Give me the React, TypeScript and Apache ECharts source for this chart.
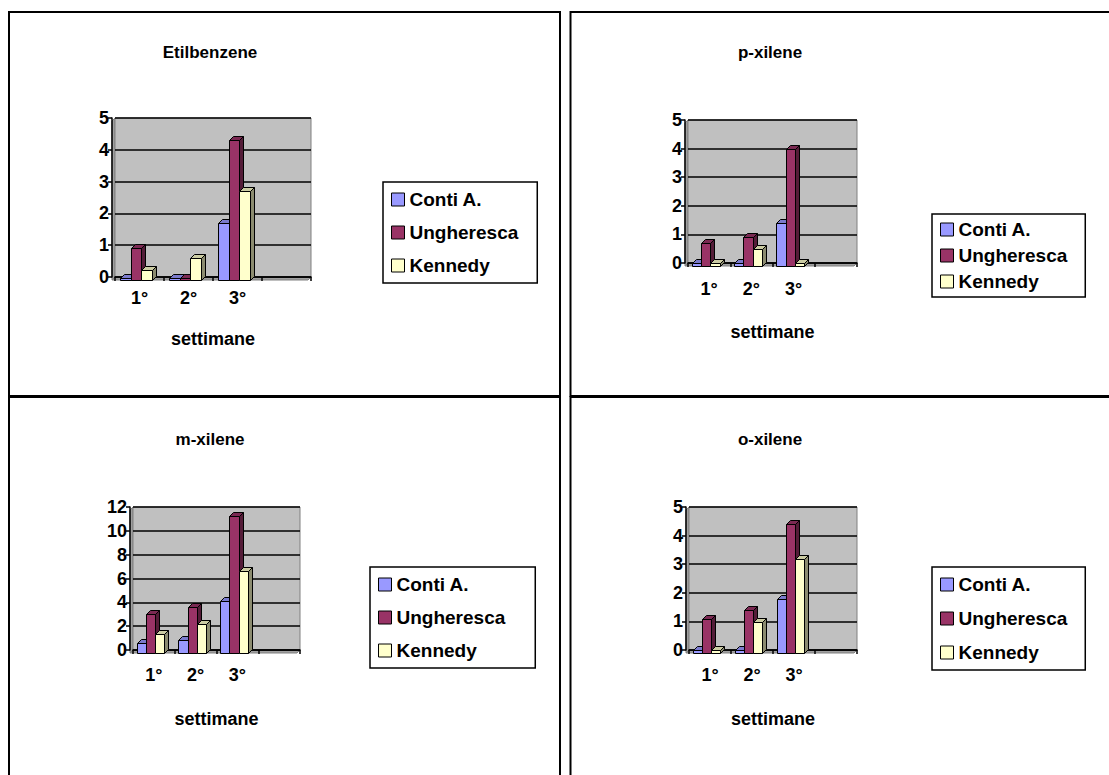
import React, { useEffect, useRef } from "react";
import * as echarts from "echarts";

// Categories and series
const weeks = ["1°", "2°", "3°", ""];
const stations = ["Conti A.", "Ungheresca", "Kennedy"];
const stationColors = ["#9999FF", "#993366", "#FFFFCC"];

// Etilbenzene
const etilbenzeneConti = [0.05, 0.05, 1.8];
const etilbenzeneUngheresca = [1.0, 0.05, 4.4];
const etilbenzeneKennedy = [0.3, 0.7, 2.8];

// p-xilene
const pXileneConti = [0.1, 0.1, 1.5];
const pXileneUngheresca = [0.8, 1.0, 4.1];
const pXileneKennedy = [0.1, 0.6, 0.1];

// m-xilene
const mXileneConti = [0.8, 1.1, 4.4];
const mXileneUngheresca = [3.3, 3.9, 11.5];
const mXileneKennedy = [1.6, 2.4, 6.9];

// o-xilene
const oXileneConti = [0.1, 0.1, 1.9];
const oXileneUngheresca = [1.2, 1.5, 4.5];
const oXileneKennedy = [0.1, 1.1, 3.3];

const FONT = "'Liberation Sans', Arial, Helvetica, sans-serif";
const WALL = 3; // depth of the back wall behind the axes
const BAR_DEPTH = 4; // depth of the 3D columns

type Panel = {
  title: string;
  titleX: number;
  titleY: number;
  values: number[][];
  yMax: number;
  yStep: number;
  wall: { left: number; top: number; right: number; bottom: number };
  labelMargin: number;
  nameGap: number;
  legend: { left: number; top: number; itemGap: number; pad: number[] };
};

const panels: Panel[] = [
  {
    title: "Etilbenzene",
    titleX: 210,
    titleY: 44,
    values: [etilbenzeneConti, etilbenzeneUngheresca, etilbenzeneKennedy],
    yMax: 5,
    yStep: 1,
    wall: { left: 115, top: 118, right: 311, bottom: 277 },
    labelMargin: 9,
    nameGap: 50,
    legend: { left: 383, top: 182, itemGap: 14, pad: [8, 19, 8, 8] },
  },
  {
    title: "p-xilene",
    titleX: 770,
    titleY: 44,
    values: [pXileneConti, pXileneUngheresca, pXileneKennedy],
    yMax: 5,
    yStep: 1,
    wall: { left: 688, top: 120, right: 857, bottom: 263 },
    labelMargin: 14,
    nameGap: 57,
    legend: { left: 932, top: 214, itemGap: 7, pad: [6, 18, 6, 8] },
  },
  {
    title: "m-xilene",
    titleX: 210,
    titleY: 431,
    values: [mXileneConti, mXileneUngheresca, mXileneKennedy],
    yMax: 12,
    yStep: 2,
    wall: { left: 133, top: 507, right: 300, bottom: 650 },
    labelMargin: 13,
    nameGap: 57,
    legend: { left: 370, top: 567, itemGap: 14, pad: [8, 30, 8, 8] },
  },
  {
    title: "o-xilene",
    titleX: 770,
    titleY: 431,
    values: [oXileneConti, oXileneUngheresca, oXileneKennedy],
    yMax: 5,
    yStep: 1,
    wall: { left: 689, top: 507, right: 857, bottom: 650 },
    labelMargin: 13,
    nameGap: 57,
    legend: { left: 932, top: 567, itemGap: 15, pad: [8, 18, 8, 8] },
  },
];

function shade(hex: string, k: number): string {
  const n = parseInt(hex.slice(1), 16);
  const r = Math.round(((n >> 16) & 255) * k);
  const g = Math.round(((n >> 8) & 255) * k);
  const b = Math.round((n & 255) * k);
  return `rgb(${r},${g},${b})`;
}

function columnRenderer(stationIdx: number, color: string) {
  const topColor = shade(color, 0.8);
  const sideColor = shade(color, 0.55);
  return (_params: any, api: any) => {
    const cat = api.value(0);
    const val = api.value(1);
    const topPt = api.coord([cat, val]);
    const basePt = api.coord([cat, 0]);
    const catW = api.size([1, 0])[0];
    const barW = catW * 0.22;
    const groupLeft = topPt[0] - catW / 2 + catW * 0.16;
    const x0 = Math.round(groupLeft + stationIdx * barW - WALL) + 0.5;
    const x1 = Math.round(groupLeft + (stationIdx + 1) * barW - WALL) + 0.5;
    const yBase = Math.round(basePt[1] + WALL) + 0.5;
    const yTop = Math.min(Math.round(topPt[1] + WALL) + 0.5, yBase - 1);
    const d = BAR_DEPTH;
    const stroke = { stroke: "#000", lineWidth: 1 };
    return {
      type: "group",
      children: [
        {
          type: "polygon",
          shape: { points: [[x1, yTop], [x1 + d, yTop - d], [x1 + d, yBase - d], [x1, yBase]] },
          style: { fill: sideColor, ...stroke },
        },
        {
          type: "polygon",
          shape: { points: [[x0, yTop], [x0 + d, yTop - d], [x1 + d, yTop - d], [x1, yTop]] },
          style: { fill: topColor, ...stroke },
        },
        {
          type: "rect",
          shape: { x: x0, y: yTop, width: x1 - x0, height: yBase - yTop },
          style: { fill: color, ...stroke },
        },
      ],
    };
  };
}

function buildOption() {
  const grid: any[] = [];
  const xAxis: any[] = [];
  const yAxis: any[] = [];
  const series: any[] = [];
  const title: any[] = [];
  const legend: any[] = [];
  const graphic: any[] = [];

  panels.forEach((p, pi) => {
    const w = p.wall;
    grid.push({
      left: w.left,
      top: w.top,
      width: w.right - w.left,
      height: w.bottom - w.top,
      show: true,
      backgroundColor: "#C0C0C0",
      borderColor: "#808080",
      borderWidth: 1,
    });
    xAxis.push({
      type: "category",
      gridIndex: pi,
      data: weeks,
      offset: WALL,
      axisLine: { show: true, lineStyle: { color: "#000", width: 1.5 } },
      axisTick: { show: true, length: 4, lineStyle: { color: "#000", width: 1.5 } },
      axisLabel: {
        interval: 0,
        margin: p.labelMargin,
        color: "#000",
        fontFamily: FONT,
        fontWeight: "bold",
        fontSize: 18,
      },
      splitLine: { show: false },
      name: "settimane",
      nameLocation: "middle",
      nameGap: p.nameGap,
      nameTextStyle: { color: "#000", fontFamily: FONT, fontWeight: "bold", fontSize: 18 },
    });
    yAxis.push({
      type: "value",
      gridIndex: pi,
      min: 0,
      max: p.yMax,
      interval: p.yStep,
      offset: WALL,
      axisLine: { show: true, lineStyle: { color: "#000", width: 1.5 } },
      axisTick: { show: true, length: 4, lineStyle: { color: "#000", width: 1.5 } },
      axisLabel: {
        margin: 3,
        color: "#000",
        fontFamily: FONT,
        fontWeight: "bold",
        fontSize: 18,
        padding: [6, 0, 0, 0],
      },
      splitLine: { show: true, lineStyle: { color: "#000", width: 1.5 } },
    });
    stations.forEach((name, si) => {
      series.push({
        type: "custom",
        name,
        xAxisIndex: pi,
        yAxisIndex: pi,
        itemStyle: { color: stationColors[si], borderColor: "#000" },
        encode: { x: 0, y: 1 },
        data: p.values[si].map((v, i) => [i, v]),
        renderItem: columnRenderer(si, stationColors[si]),
        z: 3,
      });
    });
    title.push({
      text: p.title,
      left: p.titleX,
      top: p.titleY,
      textAlign: "center",
      padding: 0,
      textStyle: { color: "#000", fontFamily: FONT, fontWeight: "bold", fontSize: 17 },
    });
    legend.push({
      orient: "vertical",
      left: p.legend.left,
      top: p.legend.top,
      data: stations,
      icon: "rect",
      itemWidth: 13,
      itemHeight: 13,
      itemGap: p.legend.itemGap,
      padding: p.legend.pad,
      borderColor: "#000",
      borderWidth: 1.5,
      backgroundColor: "#fff",
      selectedMode: false,
      itemStyle: { borderColor: "#000", borderWidth: 1 },
      textStyle: {
        color: "#000",
        fontFamily: FONT,
        fontWeight: "bold",
        fontSize: 19,
      },
    });
    // floor and side wall of the 3D plot box
    graphic.push({
      type: "polygon",
      z: -1,
      shape: {
        points: [
          [w.left - WALL, w.bottom + WALL],
          [w.left, w.bottom],
          [w.right, w.bottom],
          [w.right - WALL, w.bottom + WALL],
        ],
      },
      style: { fill: "#A0A0A0", stroke: "#808080", lineWidth: 1 },
    });
    graphic.push({
      type: "polygon",
      z: -1,
      shape: {
        points: [
          [w.left - WALL, w.top + WALL],
          [w.left, w.top],
          [w.left, w.bottom],
          [w.left - WALL, w.bottom + WALL],
        ],
      },
      style: { fill: "#A0A0A0", stroke: "#808080", lineWidth: 1 },
    });
  });

  // panel frames
  const frames = [
    { x: 9, y: 12, width: 551, height: 384 },
    { x: 570.5, y: 12, width: 600, height: 384 },
    { x: 9, y: 397, width: 551, height: 420 },
    { x: 570.5, y: 397, width: 600, height: 420 },
  ];
  frames.forEach((f) => {
    graphic.push({
      type: "rect",
      z: 10,
      shape: f,
      style: { fill: "none", stroke: "#000", lineWidth: 2 },
      silent: true,
    });
  });

  return {
    animation: false,
    backgroundColor: "#fff",
    title,
    legend,
    grid,
    xAxis,
    yAxis,
    series,
    graphic,
  };
}

export default function App() {
  const ref = useRef<HTMLDivElement>(null);
  useEffect(() => {
    if (!ref.current) return;
    const chart = echarts.init(ref.current, null, { renderer: "svg" });
    chart.setOption(buildOption() as any);
    return () => chart.dispose();
  }, []);
  return (
    <div
      ref={ref}
      style={{ position: "absolute", left: 0, top: 0, width: 1109, height: 775 }}
    />
  );
}
